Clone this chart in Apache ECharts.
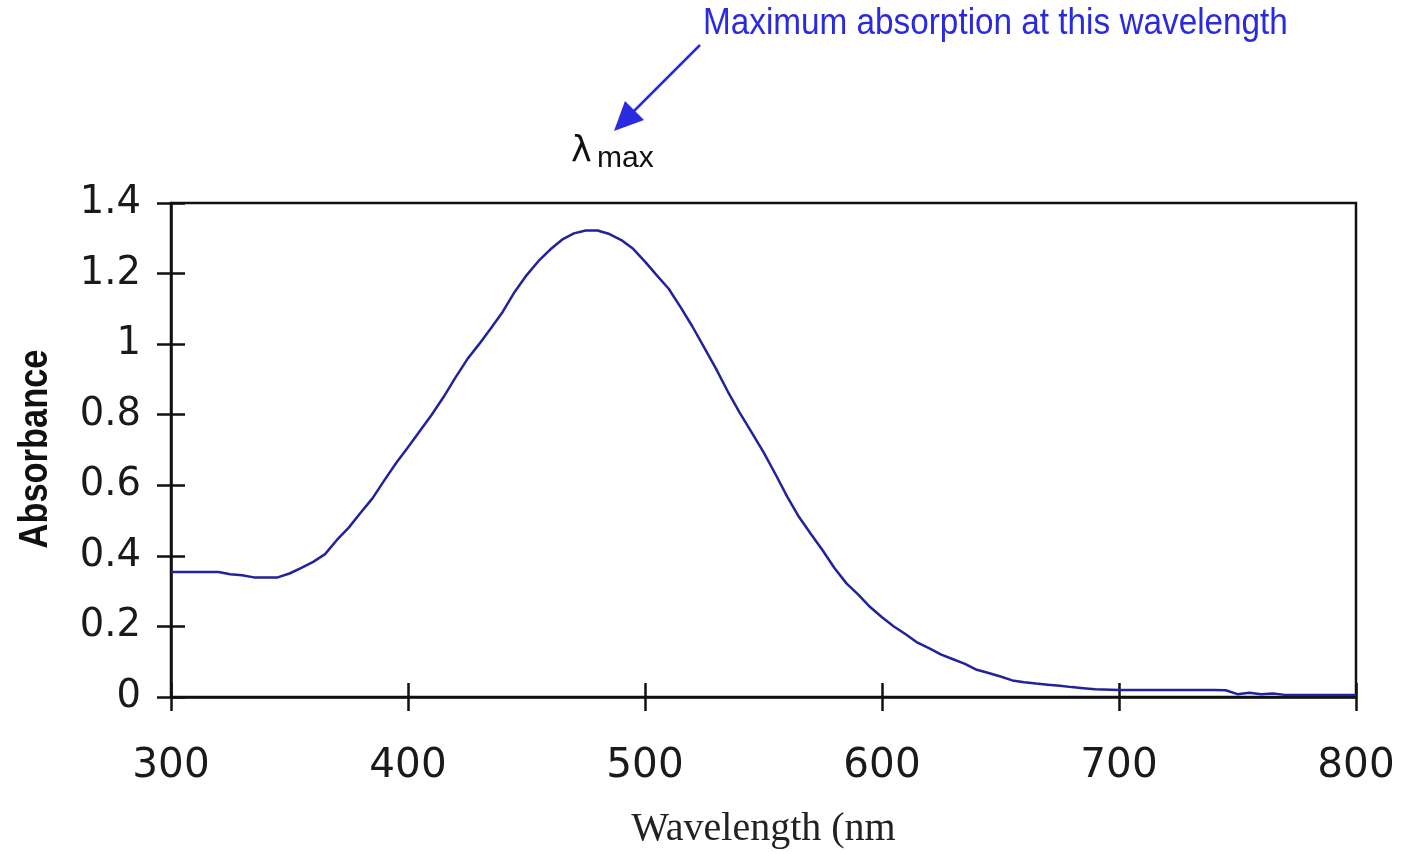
<!DOCTYPE html>
<html>
<head>
<meta charset="utf-8">
<script src="https://cdn.jsdelivr.net/npm/echarts@6/dist/echarts.min.js"></script>
<style>
html,body{margin:0;padding:0;background:#fff;}
#chart{width:1412px;height:854px;}
</style>
</head>
<body>
<div id="chart"></div>
<script>
// Data
const wavelengths = [300,305,310,315,320,325,330,335,340,345,350,355,360,365,370,375,380,385,390,395,
  400,405,410,415,420,425,430,435,440,445,450,455,460,465,470,475,480,485,490,495,
  500,505,510,515,520,525,530,535,540,545,550,555,560,565,570,575,580,585,590,595,
  600,605,610,615,620,625,630,635,640,645,650,655,660,665,670,675,680,685,690,
  700,710,720,730,740,745,750,755,760,765,770,780,790,800];
const absorbance = [0.354,0.354,0.354,0.354,0.354,0.348,0.345,0.339,0.339,0.339,0.350,0.366,0.383,0.405,0.445,0.480,0.522,0.563,0.614,0.663,
  0.708,0.754,0.800,0.850,0.905,0.957,1.000,1.045,1.092,1.148,1.195,1.235,1.268,1.296,1.314,1.322,1.322,1.312,1.295,1.270,
  1.234,1.195,1.157,1.105,1.050,0.990,0.930,0.865,0.805,0.750,0.694,0.632,0.568,0.510,0.462,0.415,0.365,0.322,0.290,0.255,
  0.226,0.200,0.178,0.154,0.138,0.120,0.107,0.094,0.077,0.068,0.058,0.047,0.042,0.038,0.035,0.032,0.028,0.025,0.022,
  0.020,0.020,0.020,0.020,0.020,0.019,0.008,0.012,0.008,0.010,0.006,0.006,0.006,0.006];
const xTicks = [300,400,500,600,700,800];
const yTicks = [0,0.2,0.4,0.6,0.8,1,1.2,1.4];
const titleText = 'Maximum absorption at this wavelength';
const xName = 'Wavelength (nm';
const yName = 'Absorbance';

const seriesData = wavelengths.map((w, i) => [w, absorbance[i]]);

const chart = echarts.init(document.getElementById('chart'), null, {renderer: 'canvas'});
const axisColor = '#111';

chart.setOption({
  backgroundColor: '#fff',
  animation: false,
  grid: {left: 171, right: 56, top: 203, bottom: 156, show: true, borderColor: axisColor, borderWidth: 2.5, backgroundColor: 'transparent'},
  xAxis: [{
    type: 'value', min: xTicks[0], max: xTicks[xTicks.length - 1], interval: 100, position: 'bottom',
    axisLine: {show: true, lineStyle: {color: axisColor, width: 2.5}},
    axisTick: {show: true, inside: false, length: 14, lineStyle: {color: axisColor, width: 2.5}},
    axisLabel: {margin: 49, fontFamily: 'DejaVu Sans', fontSize: 40.5, color: '#1a1a1a'},
    splitLine: {show: false},
    name: xName, nameLocation: 'middle', nameGap: 112,
    nameTextStyle: {fontFamily: 'Liberation Serif', fontSize: 40, color: '#222'}
  }, {
    type: 'value', min: xTicks[0], max: xTicks[xTicks.length - 1], interval: 100, position: 'bottom',
    axisLine: {show: false},
    axisTick: {show: true, inside: true, length: 14, lineStyle: {color: axisColor, width: 2.5}},
    axisLabel: {show: false}, splitLine: {show: false}
  }],
  yAxis: [{
    type: 'value', min: yTicks[0], max: yTicks[yTicks.length - 1], interval: 0.2, position: 'left',
    axisLine: {show: true, lineStyle: {color: axisColor, width: 2.5}},
    axisTick: {show: true, inside: false, length: 14, lineStyle: {color: axisColor, width: 2.5}},
    axisLabel: {margin: 30, fontFamily: 'DejaVu Sans', fontSize: 38.5, color: '#1a1a1a'},
    splitLine: {show: false}
  }, {
    type: 'value', min: yTicks[0], max: yTicks[yTicks.length - 1], interval: 0.2, position: 'left',
    axisLine: {show: false},
    axisTick: {show: true, inside: true, length: 14, lineStyle: {color: axisColor, width: 2.5}},
    axisLabel: {show: false}, splitLine: {show: false}
  }],
  series: [{
    type: 'line', data: seriesData, xAxisIndex: 0, yAxisIndex: 0,
    showSymbol: false, smooth: false,
    lineStyle: {color: '#22229a', width: 2.5}
  }],
  graphic: [
    {type: 'text', x: 703, y: 5, scaleX: 0.9,
     style: {text: titleText, font: '37px Liberation Sans', fill: '#2a2ae0', align: 'left', verticalAlign: 'top'}},
    {type: 'text', x: 36, y: 449, rotation: Math.PI / 2, scaleX: 0.86,
     style: {text: yName, font: 'bold 40px Liberation Sans', fill: '#111', align: 'center', verticalAlign: 'middle'}},
    {type: 'line', shape: {x1: 700, y1: 45, x2: 632, y2: 113}, style: {stroke: '#2a2ae0', lineWidth: 2.5}},
    {type: 'polygon', shape: {points: [[614, 131], [625, 101], [644, 120]]}, style: {fill: '#2a2ae0'}},
    {type: 'text', x: 571, y: 134, style: {text: 'λ', font: '35px DejaVu Sans', fill: '#111', verticalAlign: 'top'}},
    {type: 'text', x: 597, y: 144, style: {text: 'max', font: '30px Liberation Sans', fill: '#111', verticalAlign: 'top'}}
  ]
});
</script>
</body>
</html>
